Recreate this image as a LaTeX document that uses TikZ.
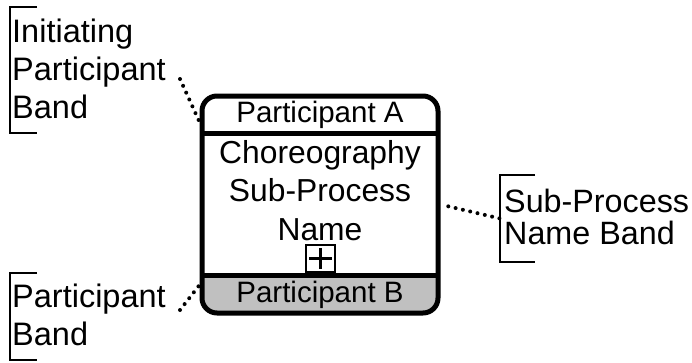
\documentclass[tikz,border=0pt]{standalone}
\usepackage{fontspec}
\setmainfont{Liberation Sans}
\usetikzlibrary{positioning,calc}
\definecolor{bandgray}{RGB}{192,192,192}
\tikzstyle{outline} = [draw=black, line width=5pt]
\tikzstyle{bandtext} = [inner sep=0pt, anchor=base, font=\fontsize{29.5}{36}\selectfont]
\tikzstyle{nametext} = [inner sep=0pt, anchor=base, align=center, font=\fontsize{31.8}{38.5}\selectfont]
\tikzstyle{callout} = [inner sep=0pt, anchor=base west, align=left, font=\fontsize{32.5}{38}\selectfont]
\tikzstyle{bracket} = [draw=black, line width=2.8pt]
\tikzstyle{leader} = [draw=black, line width=4pt, line cap=round, dash pattern=on 0pt off 7.5pt]

\begin{document}
\begin{tikzpicture}[x=1pt, y=-1pt]
    \useasboundingbox (0,0) rectangle (692,362);

    % Choreography sub-process box
    \begin{scope}
        \clip[rounded corners=15pt] (202,96) rectangle (438,313);
        \fill[bandgray] (202,275) rectangle (438,313);
    \end{scope}
    \node[outline, rounded corners=15pt, minimum width=236pt, minimum height=217pt] (choreo) at (320,204.5) {};
    \draw[outline] (202,133) -- (438,133);
    \draw[outline] (202,275) -- (438,275);

    % Band labels and sub-process name (base = last line)
    \node[bandtext] (partA) at (320,122) {Participant A};
    \node[nametext] (subname) at (320,240) {Choreography\\Sub-Process\\Name};
    \node[bandtext] (partB) at (320,302) {Participant B};

    % Collapsed marker
    \node[draw=black, line width=2.5pt, minimum width=29pt, minimum height=27pt, inner sep=0pt] (plus) at (320.5,258.5) {};
    \draw[line width=2.5pt] ($(plus.west)+(4.5,0)$) -- ($(plus.east)+(-4.5,0)$);
    \draw[line width=2.5pt] ($(plus.north)+(0,4.5)$) -- ($(plus.south)+(0,-4.5)$);

    % Callouts
    \node[callout] (initlbl) at (12,118) {Initiating\\Participant\\Band};
    \draw[bracket] (37,7) -- (10,7) -- (10,133) -- (37,133);
    \coordinate (initdot) at (180,79);
    \draw[leader] (initdot) -- (choreo.west |- partA.base);

    \node[callout, font=\fontsize{32.3}{32}\selectfont] (sublbl) at (504,244) {Sub-Process\\Name Band};
    \draw[bracket] (535,175) -- (500,175) -- (500,262) -- (535,262);
    \coordinate (subdot) at (500,218.5);
    \draw[leader, shorten <=8pt] (choreo.east) -- (subdot);

    \node[callout] (partlbl) at (12,345) {Participant\\Band};
    \draw[bracket] (37,273) -- (10,273) -- (10,360) -- (37,360);
    \coordinate (partdot) at (180,310);
    \draw[leader] (partdot) -- (choreo.west |- 0,285);
\end{tikzpicture}
\end{document}
